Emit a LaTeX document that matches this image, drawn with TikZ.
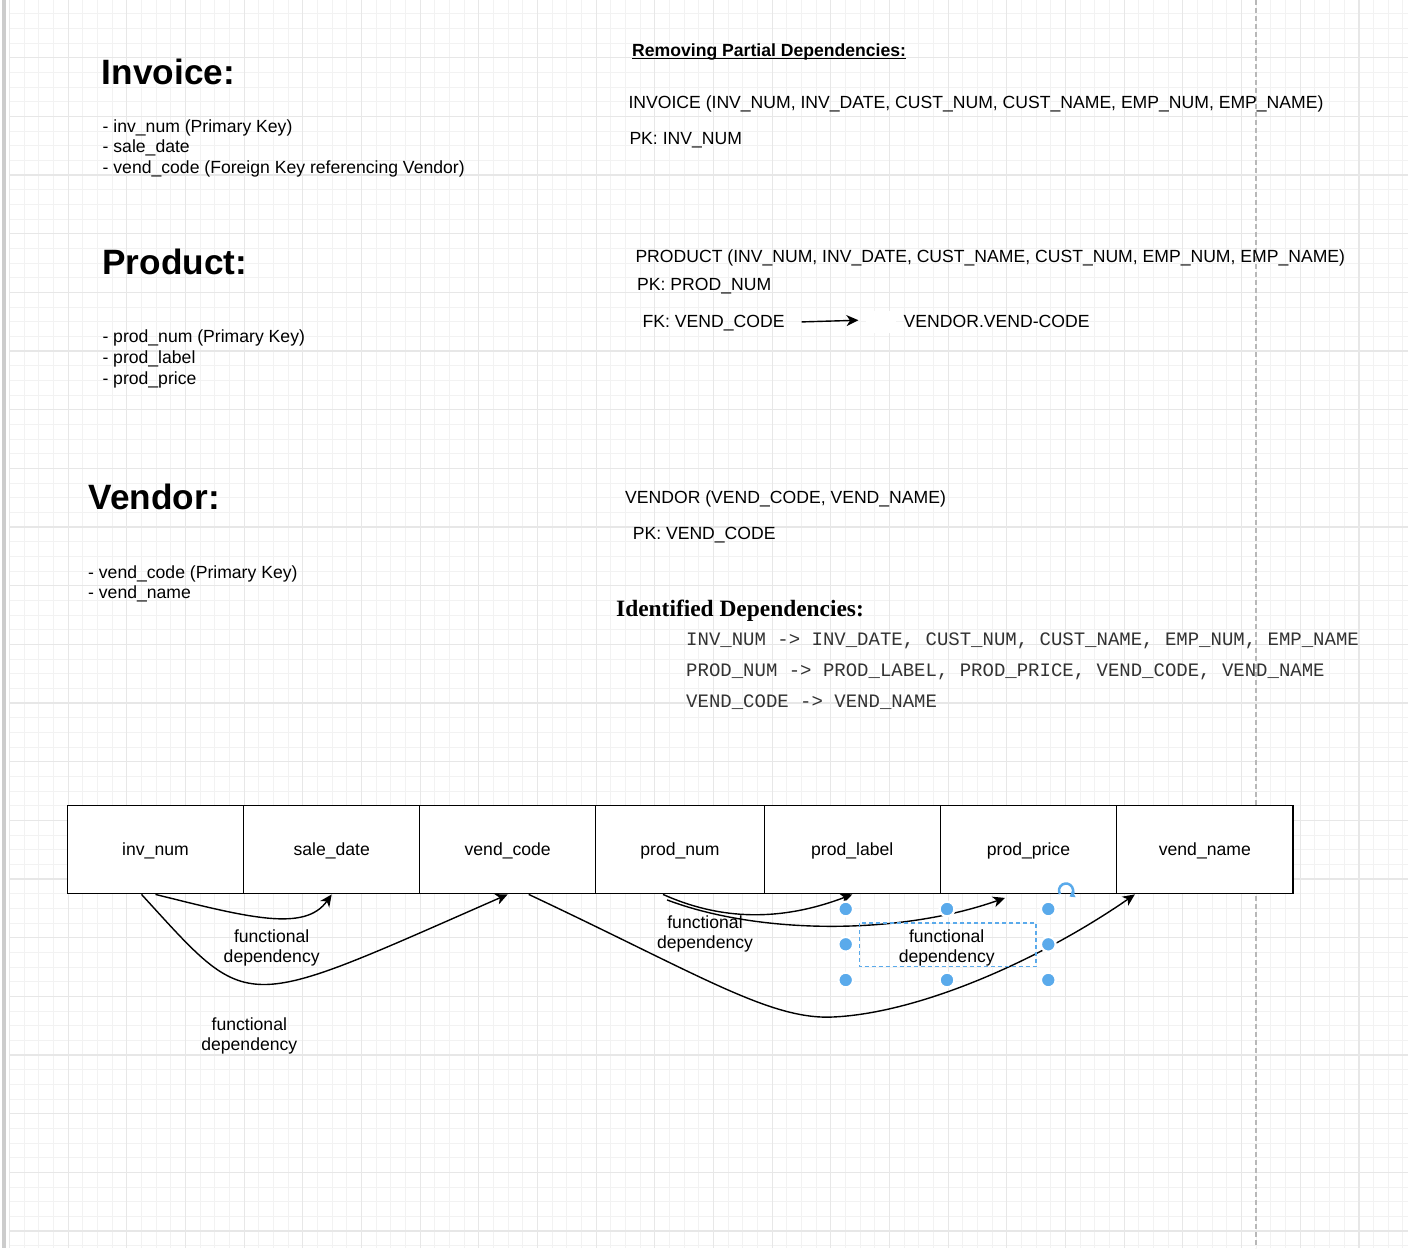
\documentclass[tikz,border=0pt]{standalone}
\usepackage{fontspec}
\setmainfont{Liberation Sans}
\newfontfamily\serifb{Liberation Serif}
\newfontfamily\monof{Liberation Mono}
\usetikzlibrary{arrows.meta,calc}
\definecolor{gridmaj}{RGB}{231,231,231}
\definecolor{gridmin}{RGB}{242,242,242}
\definecolor{handle}{RGB}{90,170,235}
\begin{document}
\begin{tikzpicture}[x=1pt,y=-1pt,
  txt/.style={inner sep=0pt, anchor=base west, font=\fontsize{17.6}{20.6}\selectfont},
  btxt/.style={inner sep=0pt, anchor=base west, font=\fontsize{17.6}{20.6}\selectfont\bfseries},
  head/.style={inner sep=0pt, anchor=base west, font=\fontsize{35.2}{40}\selectfont\bfseries},
  idhead/.style={inner sep=0pt, anchor=base west, font=\fontsize{23.4}{28}\selectfont\serifb\bfseries},
  mono/.style={inner sep=0pt, anchor=base west, text=black!80, font=\fontsize{19.0}{23}\selectfont\monof},
  cell/.style={draw, fill=white, line width=1.4pt, minimum height=88.4pt, inner sep=0pt, text height=14.6pt, text depth=3pt, font=\fontsize{17.6}{20.6}\selectfont},
  fd/.style={align=center, inner sep=0pt, font=\fontsize{17.6}{20.6}\selectfont},
  dep/.style={line width=1.4pt, -{Stealth[length=12pt,width=11pt,inset=3.5pt]}},
  hdl/.style={circle, fill=handle, draw=white, line width=2.25pt, minimum size=14.75pt, inner sep=0pt},
]
\useasboundingbox (0,0) rectangle (1408,1248);
\fill[white] (0,0) rectangle (1408,1248);
% grid
\foreach \i in {0,...,95} {\draw[gridmin, line width=1pt] ({9.6+14.6667*\i},0) -- ({9.6+14.6667*\i},1248);}
\foreach \j in {1,...,85} {\draw[gridmin, line width=1pt] (9.6,{-1+14.6667*\j}) -- (1408,{-1+14.6667*\j});}
\foreach \i in {0,...,24} {\draw[gridmaj, line width=1.1pt] ({9.6+58.6667*\i},0) -- ({9.6+58.6667*\i},1248);}
\foreach \j in {1,...,21} {\draw[gridmaj, line width=1.1pt] (9.6,{-1+58.6667*\j}) -- (1408,{-1+58.6667*\j});}
\fill[black!20] (2.3,0) rectangle (5.7,1248);
\draw[black!28, line width=1.3pt, dash pattern=on 5pt off 3pt] (1256,0) -- (1256,1248);

% left column
\node[head] (hinv) at (101.7,84) {Invoice:};
\node[txt] (inv1) at (102.5,132.2) {- inv\_num (Primary Key)};
\node[txt] (inv2) at (102.5,152.7) {- sale\_date};
\node[txt] (inv3) at (102.5,173.2) {- vend\_code (Foreign Key referencing Vendor)};
\node[head] (hprod) at (102.3,274.3) {Product:};
\node[txt] (prod1) at (102.3,342.8) {- prod\_num (Primary Key)};
\node[txt] (prod2) at (102.3,363.5) {- prod\_label};
\node[txt] (prod3) at (102.3,384.2) {- prod\_price};
\node[head] (hven) at (88.5,509) {Vendor:};
\node[txt] (ven1) at (88,578) {- vend\_code (Primary Key)};
\node[txt] (ven2) at (88,598.5) {- vend\_name};

% right column
\node[btxt] (rem) at (632,56) {Removing Partial Dependencies:};
\draw[line width=1.2pt] ([yshift=-2.3pt]rem.base west) -- ([yshift=-2.3pt]rem.base east);
\node[txt] (invr) at (628.3,108.3) {INVOICE (INV\_NUM, INV\_DATE, CUST\_NUM, CUST\_NAME, EMP\_NUM, EMP\_NAME)};
\node[txt] (pkinv) at (629.3,144.8) {PK: INV\_NUM};
\node[txt] (prodr) at (635.3,262) {PRODUCT (INV\_NUM, INV\_DATE, CUST\_NAME, CUST\_NUM, EMP\_NUM, EMP\_NAME)};
\node[txt] (pkprod) at (637,290.7) {PK: PROD\_NUM};
\node[txt] (fk) at (642.5,327.3) {FK: VEND\_CODE};
\fill[white] (866,311) rectangle (896,333);
\node[txt] (vref) at (903.5,327.3) {VENDOR.VEND-CODE};
\draw[line width=1.4pt, -{Stealth[length=12pt,width=11pt,inset=3.5pt]}] ([xshift=17pt,yshift=1pt]fk.east) -- ([xshift=-45pt,yshift=1pt]vref.west);
\node[txt] (venr) at (625,503.8) {VENDOR (VEND\_CODE, VEND\_NAME)};
\node[txt] (pkven) at (632.6,539.8) {PK: VEND\_CODE};
\node[idhead] (idd) at (616,616) {Identified Dependencies:};
\node[mono] (d1) at (686,645.3) {INV\_NUM -> INV\_DATE, CUST\_NUM, CUST\_NAME, EMP\_NUM, EMP\_NAME};
\node[mono] (d2) at (686,676.3) {PROD\_NUM -> PROD\_LABEL, PROD\_PRICE, VEND\_CODE, VEND\_NAME};
\node[mono] (d3) at (686,707.3) {VEND\_CODE -> VEND\_NAME};

% table
\node[cell, minimum width=176.4pt] (c1) at (155.5,849.5) {inv\_num};
\node[cell, minimum width=176pt] (c2) at (331.7,849.5) {sale\_date};
\node[cell, minimum width=176pt] (c3) at (507.7,849.5) {vend\_code};
\node[cell, minimum width=168.6pt] (c4) at (680,849.5) {prod\_num};
\node[cell, minimum width=176pt] (c5) at (852.3,849.5) {prod\_label};
\node[cell, minimum width=176.4pt] (c6) at (1028.5,849.5) {prod\_price};
\node[cell, minimum width=176.3pt] (c7) at (1204.85,849.5) {vend\_name};

% dependency connectors
\coordinate (m3) at (833,1017);
\coordinate (s5) at ([xshift=-13pt,yshift=-5.5pt]c4.south);
\draw[dep] (c1.south) .. controls (250,918) and (305,932) .. (c2.south);
\draw[dep] ([xshift=-14pt]c1.south) .. controls (252,1015) and (237,1013) .. (c3.south);
\draw[dep] ([xshift=21pt]c3.south) .. controls (700,975) and (770,1020) .. (m3) .. controls (920,1013) and (1040,960) .. ([xshift=-70pt]c7.south);
\draw[dep] ([xshift=-17pt]c4.south) .. controls (720,920) and (780,922) .. (c5.south);
\draw[dep] (s5) .. controls (760,935) and (900,935) .. ([xshift=-23.5pt,yshift=-3.5pt]c6.south);

% labels
\node[fd] (l1) at (271.7,948) {functional\\dependency};
\node[fd] (l2) at (249.3,1036) {functional\\dependency};
\node[fd] (l3) at (705,934) {functional\\dependency};
\node[fd] (l4) at (946.7,948) {functional\\dependency};

% selection handles
\draw[handle, line width=1.2pt, dash pattern=on 4pt off 3pt] (859.3,923) rectangle (1036,966.7);
\node[hdl] (h1) at (845.7,909) {};
\node[hdl] (h2) at (947,909) {};
\node[hdl] (h3) at (1048.3,909) {};
\node[hdl] (h4) at (845.7,944.3) {};
\node[hdl] (h5) at (1048.3,944.3) {};
\node[hdl] (h6) at (845.7,980) {};
\node[hdl] (h7) at (947,980) {};
\node[hdl] (h8) at (1048.3,980) {};
\draw[handle, line width=2.5pt, -{Triangle[length=5pt,width=7pt]}] (1066,890.5) ++(150:7) arc (150:420:7);
\end{tikzpicture}
\end{document}
